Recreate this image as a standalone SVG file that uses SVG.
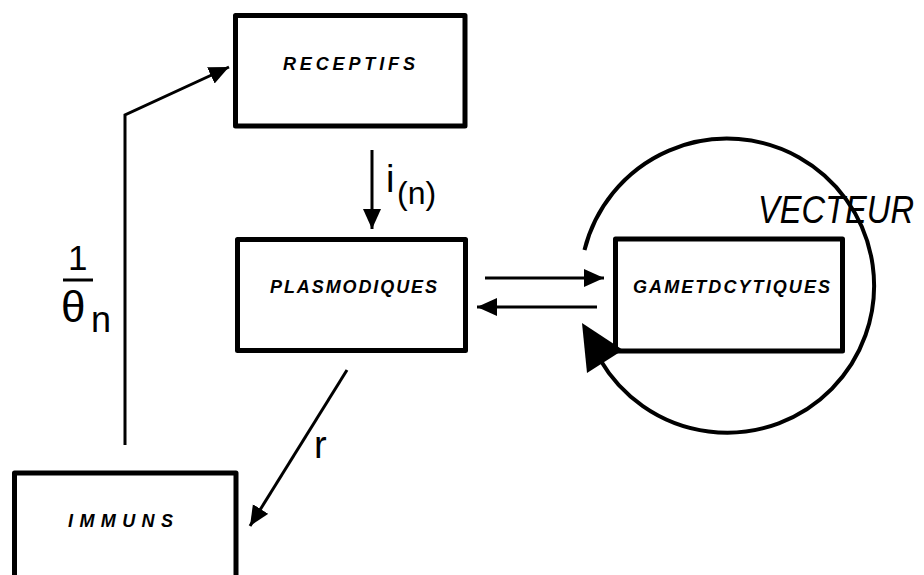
<svg xmlns="http://www.w3.org/2000/svg" width="924" height="575" viewBox="0 0 924 575">
  <style>
    .box { fill: #fff; stroke: #000; stroke-width: 5; stroke-linejoin: round; }
    .lbl { font-family: "Liberation Sans", Arial, sans-serif; font-weight: bold; font-style: italic; font-size: 18px; fill: #000; }
    .wire { fill: none; stroke: #000; stroke-width: 3; }
    .math { font-family: "Liberation Sans", Arial, sans-serif; fill: #000; }
  </style>
  <defs>
    <marker id="head" markerUnits="userSpaceOnUse" markerWidth="22" markerHeight="20" refX="20" refY="9" orient="auto">
      <path d="M0,0 L20,9 L0,18 Z" fill="#000"/>
    </marker>
  </defs>

  <!-- compartments -->
  <g id="receptifs">
    <rect class="box" x="235.5" y="15.5" width="229.5" height="110.5"/>
    <text class="lbl" x="283" y="70" textLength="132" lengthAdjust="spacing">RECEPTIFS</text>
  </g>
  <g id="plasmodiques">
    <rect class="box" x="237.5" y="239.5" width="228" height="111"/>
    <text class="lbl" x="270" y="293" textLength="167" lengthAdjust="spacing">PLASMODIQUES</text>
  </g>
  <g id="gametocytiques">
    <rect class="box" x="615.5" y="239" width="227" height="112"/>
    <text class="lbl" x="633" y="293" textLength="197" lengthAdjust="spacing">GAMETDCYTIQUES</text>
  </g>
  <g id="immuns">
    <rect class="box" x="14.5" y="473" width="221.5" height="130"/>
    <text class="lbl" x="68" y="527" textLength="105" lengthAdjust="spacing">IMMUNS</text>
  </g>

  <!-- vector cycle -->
  <g id="vecteur">
    <path class="wire" style="stroke-width:4" d="M584.5,249.9 A147,147 0 1 1 600,359.5"/>
    <path d="M582,323 L587,373 L623,350 Z" fill="#000"/>
    <text class="math" x="758" y="223" font-size="39" font-style="italic" textLength="156" lengthAdjust="spacingAndGlyphs">VECTEUR</text>
  </g>

  <!-- transitions -->
  <g id="connectors">
    <line class="wire" x1="372" y1="150" x2="372" y2="229" marker-end="url(#head)"/>
    <line class="wire" x1="485" y1="278" x2="604" y2="278" marker-end="url(#head)"/>
    <line class="wire" x1="597" y1="307" x2="477" y2="307" marker-end="url(#head)"/>
    <line class="wire" x1="347" y1="370" x2="250" y2="526" marker-end="url(#head)"/>
    <polyline class="wire" points="125,445 125,115 229,67" marker-end="url(#head)"/>
  </g>

  <!-- rate labels -->
  <g id="labels">
    <text class="math" x="386" y="192" font-size="38">i</text>
    <text class="math" x="397" y="204" font-size="32">(n)</text>
    <text class="math" x="314" y="458" font-size="38">r</text>
    <text class="math" x="68" y="270" font-size="35">1</text>
    <line x1="63" y1="280" x2="93" y2="280" stroke="#000" stroke-width="3"/>
    <text class="math" x="61" y="322" font-size="44">θ</text>
    <text class="math" x="91" y="332" font-size="36">n</text>
  </g>
</svg>
